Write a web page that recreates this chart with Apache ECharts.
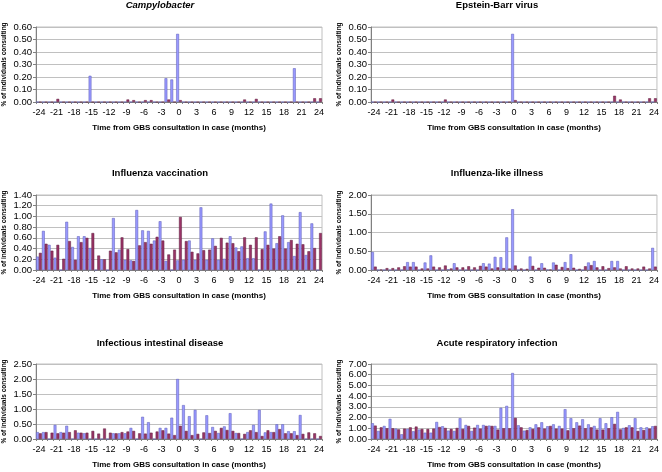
<!DOCTYPE html>
<html>
<head>
<meta charset="utf-8">
<script src="https://cdn.jsdelivr.net/npm/echarts@6/dist/echarts.min.js"></script>
<style>
  html, body { margin: 0; padding: 0; background: #fff; }
  #chart { width: 662px; height: 472px; }
</style>
</head>
<body>
<div id="chart"></div>
<script>
// months relative to the GBS consultation
var months = ['-24','-23','-22','-21','-20','-19','-18','-17','-16','-15','-14','-13','-12',
  '-11','-10','-9','-8','-7','-6','-5','-4','-3','-2','-1','0','1','2','3','4','5','6','7',
  '8','9','10','11','12','13','14','15','16','17','18','19','20','21','22','23','24'];

// % of individuals consulting, blue = cases, maroon = controls
var campyCases = [0,0,0,0,0,0,0, 0,0,0.21,0,0,0,0, 0,0,0,0,0,0,0,
  0,0.19,0.18,0.545,0,0,0, 0,0,0,0,0,0,0, 0,0,0,0,0,0,0, 0,0,0.27,0,0,0,0];
var campyControls = [0,0,0,0.025,0,0,0, 0,0,0,0,0,0,0, 0,0.02,0.015,0,0.015,0.015,0,
  0,0.02,0,0.015,0,0,0, 0,0,0,0,0,0,0, 0.02,0,0.025,0,0,0,0, 0,0,0,0,0,0.03,0.03];

var ebvCases = [0,0,0,0,0,0,0, 0,0,0,0,0,0,0, 0,0,0,0,0,0,0,
  0,0,0,0.545,0,0,0, 0,0,0,0,0,0,0, 0,0,0,0,0,0,0, 0,0,0,0,0,0,0];
var ebvControls = [0,0,0,0.02,0,0,0, 0,0,0,0,0,0.02,0, 0,0,0,0,0,0,0,
  0,0,0,0.015,0,0,0, 0,0,0,0,0,0,0, 0,0,0,0,0,0,0.05, 0.02,0,0,0,0,0.03,0.03];

var fluVacCases = [0.25,0.73,0.47,0.23,0,0.90,0.43, 0.63,0.63,0.41,0,0.20,0,0.97,
  0.38,0.19,0.18,1.12,0.74,0.73,0.55, 0.91,0.17,0,0.18,0.19,0.55,0.19,
  1.17,0.19,0.59,0.19,0.21,0.63,0.42, 0.44,0.22,0.22,0,0.72,1.24,0.50,
  1.02,0.52,0.26,1.08,0.28,0.87,0];
var fluVacControls = [0.32,0.49,0.36,0.47,0.21,0.54,0.19, 0.52,0.60,0.69,0.27,0.20,0.36,0.33,
  0.61,0.39,0.17,0.46,0.52,0.49,0.62, 0.55,0.29,0.38,0.99,0.54,0.34,0.31,
  0.37,0.38,0.45,0.60,0.51,0.50,0.35, 0.61,0.47,0.61,0.39,0.47,0.40,0.63,
  0.40,0.56,0.49,0.48,0.35,0.41,0.69];

var iliCases = [0.48,0,0,0,0,0,0.21, 0.21,0,0.20,0.39,0,0,0.02,
  0.18,0,0,0,0,0.18,0.17, 0.35,0.34,0.87,1.62,0,0,0.36,
  0,0.18,0.01,0.20,0,0.21,0.42, 0,0,0.20,0.24,0,0,0.24,
  0.24,0,0,0,0,0,0.59];
var iliControls = [0.09,0.01,0.05,0.05,0.07,0.10,0.09, 0.09,0.04,0.04,0.09,0.07,0.12,0.04,
  0.07,0.07,0.10,0.07,0.11,0.09,0.04, 0.07,0.05,0.04,0.12,0.04,0.03,0.11,
  0.06,0.06,0.01,0.14,0.08,0.05,0.06, 0.03,0.10,0.13,0.07,0.10,0.05,0.07,
  0.04,0.10,0.04,0.04,0.09,0.04,0.09];

var iidCases = [0.23,0.23,0,0.47,0.23,0.44,0, 0.21,0.19,0,0,0,0,0.19,
  0.19,0.19,0.37,0,0.74,0.56,0, 0.37,0.37,0.71,2.00,1.13,0.76,0.97,
  0,0.79,0.40,0.20,0.42,0.86,0.20, 0,0.23,0.47,0.97,0.22,0.23,0.49,
  0.49,0.26,0.26,0.80,0,0,0];
var iidControls = [0.19,0.23,0.21,0.19,0.21,0.23,0.29, 0.21,0.21,0.27,0.18,0.35,0.21,0.19,
  0.23,0.25,0.27,0.19,0.18,0.21,0.25, 0.29,0.18,0.13,0.44,0.27,0.13,0.17,
  0.22,0.20,0.27,0.37,0.30,0.27,0.20, 0.17,0.29,0.23,0.10,0.29,0.23,0.33,
  0.19,0.19,0.13,0.17,0.22,0.19,0.10];

var ariCases = [1.47,0.75,1.22,1.88,0.97,0.44,0.94, 0.72,0.88,0.59,0.59,1.59,1.19,0.78,
  0.75,1.94,1.31,0.75,1.31,1.31,1.25, 1.22,2.91,3.09,6.16,1.28,0.78,1.09,
  1.37,1.56,1.19,1.37,1.22,2.78,1.94, 1.56,1.84,1.37,1.22,1.94,1.47,2.03,
  2.53,1.03,1.28,1.94,1.09,1.09,1.19];
var ariControls = [1.25,1.09,1.00,1.00,0.90,0.97,1.09, 1.16,0.94,0.94,0.97,1.12,1.03,0.94,
  1.03,0.94,1.22,1.06,0.97,1.22,1.22, 0.88,1.00,1.00,1.97,1.09,0.84,0.94,
  1.09,0.97,1.22,0.97,0.97,0.81,1.00, 1.25,1.00,1.09,0.88,0.88,1.00,1.41,
  0.90,1.09,1.09,0.75,0.84,0.97,1.22];

var panels = [
  { title: 'Campylobacter', italic: true, cases: campyCases, controls: campyControls, max: 0.6, step: 0.1,
    left: 35, top: 27, width: 287, tx: 160, ty: 0 },
  { title: 'Epstein-Barr virus', cases: ebvCases, controls: ebvControls, max: 0.6, step: 0.1,
    left: 371, top: 27, width: 289, tx: 497, ty: 0 },
  { title: 'Influenza vaccination', cases: fluVacCases, controls: fluVacControls, max: 1.4, step: 0.2,
    left: 33, top: 195, width: 289, tx: 160, ty: 168 },
  { title: 'Influenza-like illness', cases: iliCases, controls: iliControls, max: 2.0, step: 0.5,
    left: 371, top: 195, width: 289, tx: 497, ty: 168 },
  { title: 'Infectious intestinal disease', cases: iidCases, controls: iidControls, max: 2.5, step: 0.5,
    left: 32, top: 364, width: 290, tx: 160, ty: 338 },
  { title: 'Acute respiratory infection', cases: ariCases, controls: ariControls, max: 7, step: 1,
    left: 371, top: 364, width: 289, tx: 497, ty: 338 }
];

var font = 'Arial, "Liberation Sans", sans-serif';
var option = { animation: false, title: [], grid: [], xAxis: [], yAxis: [], series: [] };

panels.forEach(function (p, i) {
  option.title.push({
    text: p.title, left: p.tx, top: p.ty, textAlign: 'center', padding: 0,
    textStyle: { fontSize: 9.5, fontWeight: 'bold', fontStyle: p.italic ? 'italic' : 'normal', color: '#000', fontFamily: font }
  });
  option.grid.push({
    left: p.left, top: p.top, width: p.width, height: 75,
    show: true, borderColor: '#c0c0c0', borderWidth: 1, backgroundColor: '#fff'
  });
  option.xAxis.push({
    type: 'category', gridIndex: i, data: months,
    name: 'Time from GBS consultation in case (months)', nameLocation: 'middle', nameGap: 22,
    nameTextStyle: { fontSize: 8, fontWeight: 'bold', color: '#000', fontFamily: font },
    axisLine: { lineStyle: { color: '#808080', width: 1 } },
    axisTick: { show: true, interval: 0, length: 2, lineStyle: { color: '#808080' } },
    axisLabel: { interval: 2, fontSize: 9, color: '#000', margin: 6, fontFamily: font },
    splitLine: { show: false }
  });
  option.yAxis.push({
    type: 'value', gridIndex: i, min: 0, max: p.max, interval: p.step,
    name: '% of individuals consulting', nameLocation: 'middle', nameGap: 28, nameRotate: 90,
    nameTextStyle: { fontSize: 6.5, fontWeight: 'bold', color: '#000', fontFamily: font },
    axisLine: { show: true, lineStyle: { color: '#808080', width: 1 } },
    axisTick: { show: true, length: 3, lineStyle: { color: '#808080' } },
    axisLabel: { fontSize: 9.5, color: '#000', margin: 4, fontFamily: font,
      formatter: function (v) { return v.toFixed(2); } },
    splitLine: { show: true, lineStyle: { color: '#c0c0c0', width: 1 } }
  });
  option.series.push({
    type: 'bar', name: 'Cases', xAxisIndex: i, yAxisIndex: i, data: p.cases,
    barGap: '0%', barCategoryGap: '4%',
    itemStyle: { color: '#9999ff', borderColor: '#5a5ab4', borderWidth: 0.5 }
  });
  option.series.push({
    type: 'bar', name: 'Controls', xAxisIndex: i, yAxisIndex: i, data: p.controls,
    barGap: '0%', barCategoryGap: '4%',
    itemStyle: { color: '#993366', borderColor: '#5e1f3e', borderWidth: 0.5 }
  });
});

var chart = echarts.init(document.getElementById('chart'), null, { renderer: 'canvas' });
chart.setOption(option);
</script>
</body>
</html>
